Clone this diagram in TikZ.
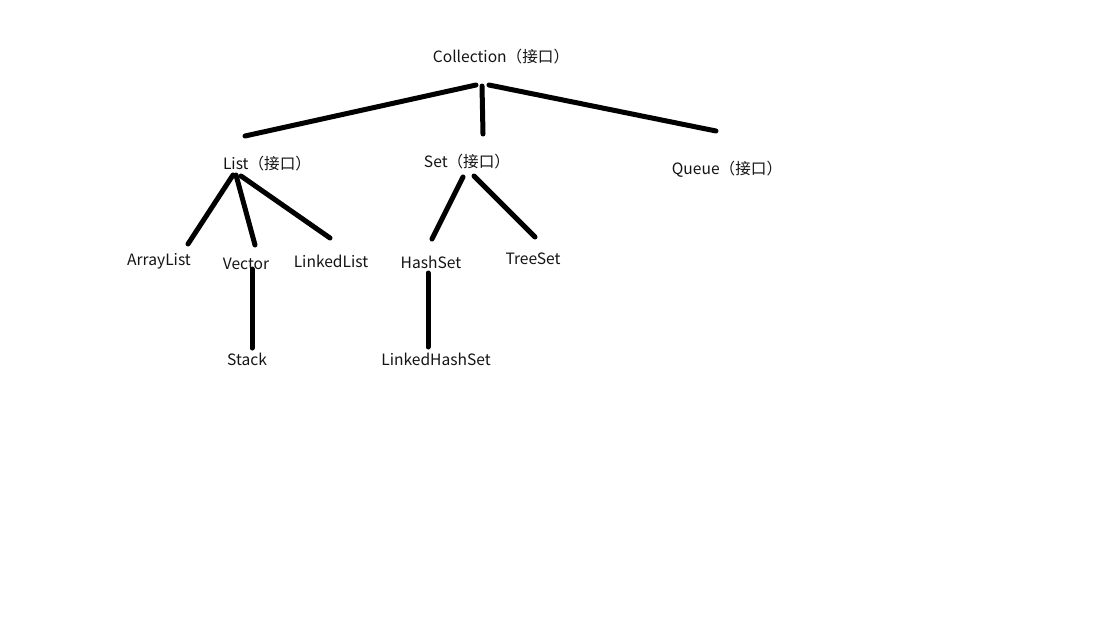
\documentclass[tikz,border=0pt]{standalone}
\usepackage{fontspec}
\setmainfont{Noto Sans CJK SC}
\begin{document}
\begin{tikzpicture}[x=1pt,y=-1pt,
  label/.style={anchor=base,inner sep=0pt,font=\fontsize{15.6}{18}\selectfont,text=black!92},
  stroke/.style={line width=5pt,line cap=round,black}]
\useasboundingbox[fill=white] (0,0) rectangle (1111,619);

% class and interface names
\node[label] (coll)  at (501,62)  {Collection（接口）};
\node[label] (list)  at (267,169) {List（接口）};
\node[label] (set)   at (467,167) {Set（接口）};
\node[label] (queue) at (727,174) {Queue（接口）};
\node[label] (alist) at (159,265) {ArrayList};
\node[label] (vec)   at (246,269) {Vector};
\node[label] (llist) at (331,267) {LinkedList};
\node[label] (hset)  at (431,268) {HashSet};
\node[label] (tset)  at (533,264) {TreeSet};
\node[label] (stack) at (247,365) {Stack};
\node[label] (lhset) at (436,365) {LinkedHashSet};

% stroke end points
\coordinate (c0) at (476,85);
\coordinate (c1) at (482,86);
\coordinate (c2) at (489,85);
\coordinate (cL) at (245,136);
\coordinate (cS) at (483,134);
\coordinate (cQ) at (716,131);

\coordinate (l0) at (233,175);
\coordinate (l1) at (236,175);
\coordinate (l2) at (241,176);
\coordinate (la) at (188,244);
\coordinate (lv) at (255,245);
\coordinate (ll) at (330,238);

\coordinate (s0) at (463,177);
\coordinate (s1) at (474,176);
\coordinate (sh) at (432,239);
\coordinate (st) at (535,237);

\coordinate (v0) at (252,269);
\coordinate (v1) at (252,348);
\coordinate (h0) at (428,273);
\coordinate (h1) at (428,347);

% tree strokes
\draw[stroke] (cL) -- (c0);
\draw[stroke] (c1) -- (cS);
\draw[stroke] (c2) -- (cQ);
\draw[stroke] (l0) -- (la);
\draw[stroke] (l1) -- (lv);
\draw[stroke] (l2) -- (ll);
\draw[stroke] (s0) -- (sh);
\draw[stroke] (s1) -- (st);
\draw[stroke] (v0) -- (v1);
\draw[stroke] (h0) -- (h1);
\end{tikzpicture}
\end{document}
